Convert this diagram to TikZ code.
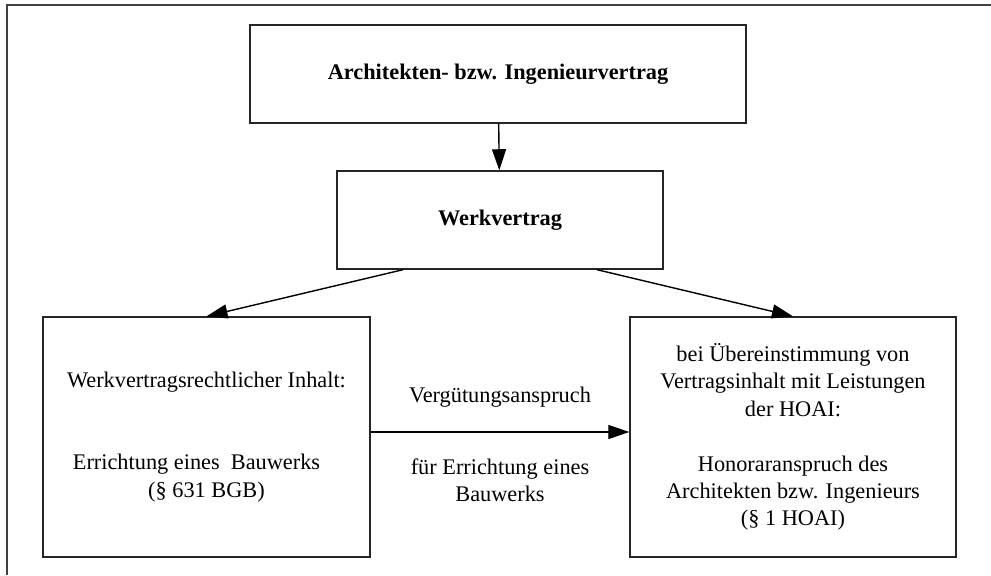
\documentclass[tikz,border=0pt]{standalone}
\usepackage{fontspec}
\setmainfont{Liberation Serif}
\usetikzlibrary{arrows.meta}

\begin{document}
\begin{tikzpicture}[x=0.02cm,y=-0.02cm,-,>={Triangle[length=12pt,width=8pt]},line width=0.8pt,
  font=\fontsize{12.7}{15.6}\selectfont,
  box/.style={draw=black!85,rectangle,inner sep=0pt,align=center}]

            \useasboundingbox (0,0) rectangle (991,575);
            \draw[black!75,line width=1.1pt] (7,575) -- (7,5) -- (991,5);

            \node[box, minimum width=9.92cm, minimum height=1.96cm] (1) at (498,74) {\textbf{Architekten- bzw. Ingenieurvertrag}};
            \node[box, minimum width=6.52cm, minimum height=1.96cm] (2) at (500,220) {\textbf{Werkvertrag}};
            \node[box, minimum width=6.54cm, minimum height=4.8cm] (3) at (206.5,437) {Werkvertragsrechtlicher Inhalt:\\[2\baselineskip]
                \hbox{Errichtung eines\ \ Bauwerks\kern0.4cm}\\(§ 631 BGB)};
            \node[box, minimum width=6.52cm, minimum height=4.8cm] (4) at (793,437) {bei Übereinstimmung von\\Vertragsinhalt mit Leistungen\\der HOAI:\\[\baselineskip]
                Honoraranspruch des\\Architekten bzw. Ingenieurs\\(§ 1 HOAI)};

            \draw[->] (1) to (2);
            \draw[->] ([xshift=-1.94cm]2.south) to (3.north);
            \draw[->] ([xshift=1.94cm]2.south) to (4.north);
            \draw[->] ([yshift=0.1cm]3.east) to
                node[midway, yshift=0.7cm] {Vergütungsanspruch}
                node[midway, yshift=-0.97cm, align=center] {für Errichtung eines\\Bauwerks}
                ([yshift=0.1cm]4.west);

        \end{tikzpicture}
\end{document}
